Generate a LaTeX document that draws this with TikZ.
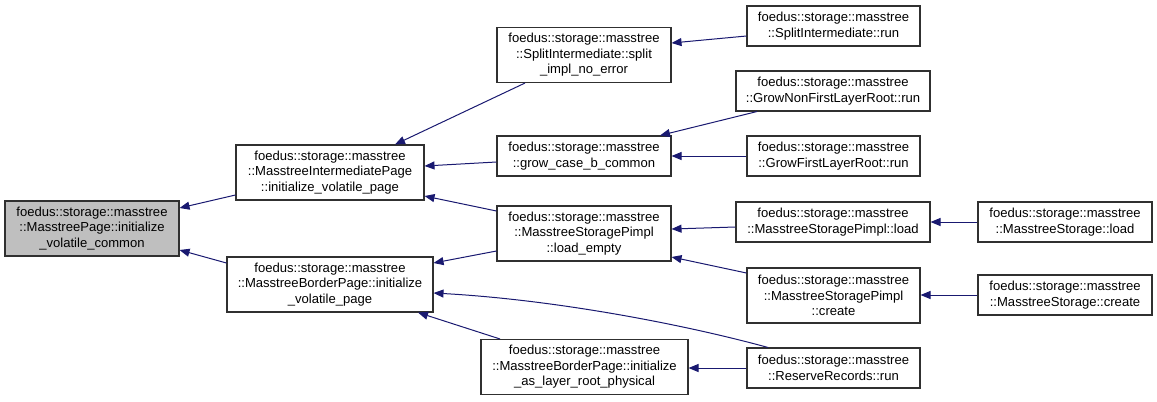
\documentclass[tikz,border=0pt]{standalone}
\usepackage{fontspec}
\setmainfont{Liberation Sans}
\usetikzlibrary{arrows.meta,calc}
\definecolor{edgecol}{HTML}{191970}
\definecolor{rootfill}{HTML}{BFBFBF}
\definecolor{boxline}{HTML}{303030}
\tikzset{
  fn/.style={draw=boxline, line width=0.8pt, fill=white, align=center, inner sep=0pt,
    font=\fontsize{9.8pt}{11.6pt}\selectfont},
  wh/.style 2 args={minimum width=#1*0.75pt, minimum height=#2*0.75pt},
  edge/.style={draw=edgecol, line width=0.75pt, -{Triangle[length=7.5pt,width=6pt]}},
}
\begin{document}
\begin{tikzpicture}[x=0.75pt,y=-0.75pt]
\path[use as bounding box] (0,0) rectangle (1157,401);
\node[fn, wh={174}{55}, fill=rootfill] (root) at (92,228.5) {foedus::storage::masstree\\::MasstreePage::initialize\\\_volatile\_common};
\node[fn, wh={188}{55}] (ip) at (330,172.5) {foedus::storage::masstree\\::MasstreeIntermediatePage\\::initialize\_volatile\_page};
\node[fn, wh={206}{55}] (bp) at (330,284.5) {foedus::storage::masstree\\::MasstreeBorderPage::initialize\\\_volatile\_page};
\node[fn, wh={174}{55}] (sis) at (584,55) {foedus::storage::masstree\\::SplitIntermediate::split\\\_impl\_no\_error};
\node[fn, wh={173}{40}] (sir) at (833.5,26) {foedus::storage::masstree\\::SplitIntermediate::run};
\node[fn, wh={194}{40}] (gnf) at (833,91) {foedus::storage::masstree\\::GrowNonFirstLayerRoot::run};
\node[fn, wh={174}{40}] (gcb) at (584,156) {foedus::storage::masstree\\::grow\_case\_b\_common};
\node[fn, wh={173}{40}] (gfl) at (833.5,156) {foedus::storage::masstree\\::GrowFirstLayerRoot::run};
\node[fn, wh={174}{55}] (le) at (584,233.5) {foedus::storage::masstree\\::MasstreeStoragePimpl\\::load\_empty};
\node[fn, wh={194}{40}] (mspl) at (833,222) {foedus::storage::masstree\\::MasstreeStoragePimpl::load};
\node[fn, wh={173}{55}] (mspc) at (833.5,295.5) {foedus::storage::masstree\\::MasstreeStoragePimpl\\::create};
\node[fn, wh={207}{55}] (alrp) at (584.5,367) {foedus::storage::masstree\\::MasstreeBorderPage::initialize\\\_as\_layer\_root\_physical};
\node[fn, wh={173}{40}] (rr) at (833.5,368) {foedus::storage::masstree\\::ReserveRecords::run};
\node[fn, wh={174}{40}] (msl) at (1065,222) {foedus::storage::masstree\\::MasstreeStorage::load};
\node[fn, wh={174}{40}] (msc) at (1065,295) {foedus::storage::masstree\\::MasstreeStorage::create};

\draw[edge] ($(ip.west)+(0,22.5)$) -- ($(root.east)+(0,-20.5)$);
\draw[edge] ($(bp.west)+(0,-21.5)$) -- ($(root.east)+(0,21.5)$);
\draw[edge] ($(sis.south)+(-59,0)$) -- ($(ip.north)+(65,0)$);
\draw[edge] ($(gcb.west)+(0,6)$) -- ($(ip.east)+(0,-6.5)$);
\draw[edge] ($(le.west)+(0,-22.5)$) -- ($(ip.east)+(0,23.5)$);
\draw[edge] ($(le.west)+(0,17.5)$) -- ($(bp.east)+(0,-21.5)$);
\draw[edge] ($(alrp.north)+(-84.5,0)$) -- ($(bp.south)+(88,0)$);
\draw[edge] ($(rr.north)+(-65.5,0)$) .. controls (690,326) and (560,300) .. ($(bp.east)+(0,8.5)$);
\draw[edge] ($(sir.west)+(0,10)$) -- ($(sis.east)+(0,-12)$);
\draw[edge] ($(gnf.south)+(-76,0)$) -- ($(gcb.north)+(76,0)$);
\draw[edge] (gfl.west) -- (gcb.east);
\draw[edge] ($(mspl.west)+(0,5)$) -- ($(le.east)+(0,-4.5)$);
\draw[edge] ($(mspc.west)+(0,-22.5)$) -- ($(le.east)+(0,23.5)$);
\draw[edge] (msl.west) -- (mspl.east);
\draw[edge] (msc.west) -- (msc.west -| mspc.east);
\draw[edge] (rr.west) -- (rr.west -| alrp.east);
\end{tikzpicture}
\end{document}
